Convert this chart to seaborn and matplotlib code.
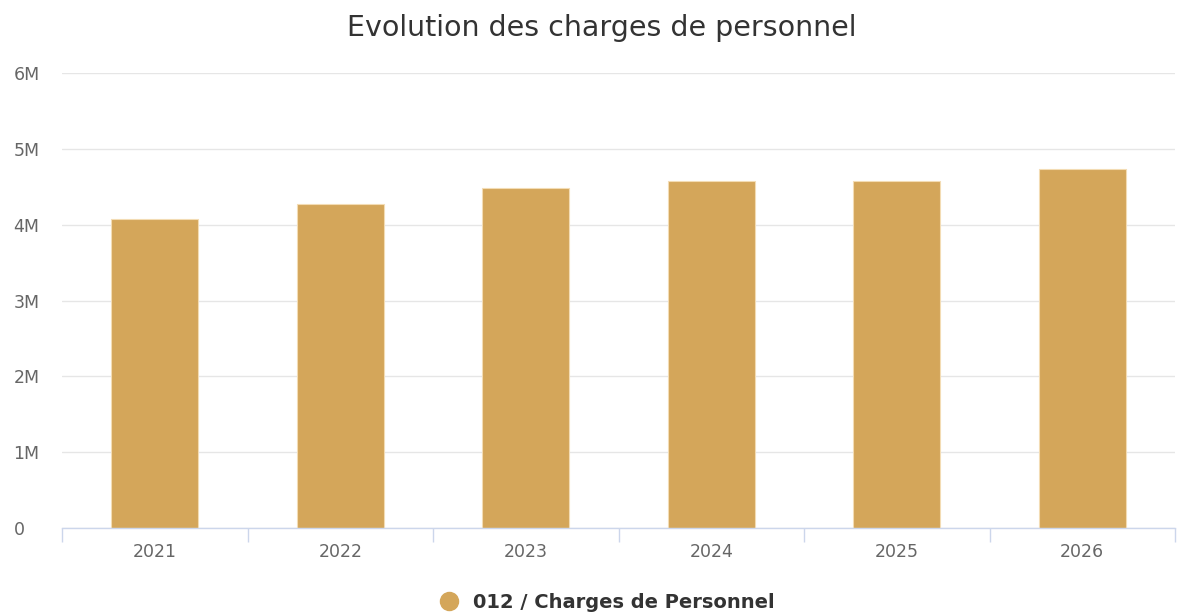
import matplotlib
matplotlib.use("Agg")
import matplotlib.pyplot as plt
from matplotlib.lines import Line2D
from matplotlib.ticker import FuncFormatter, FixedLocator
import seaborn as sns
import pandas as pd

years = ["2021", "2022", "2023", "2024", "2025", "2026"]
charges = [4080000, 4270000, 4490000, 4570000, 4570000, 4740000]
series_name = "012 / Charges de Personnel"

bar_color = "#D4A65A"

sns.set_style("white")
plt.rcParams["font.family"] = ["DejaVu Sans"]

df = pd.DataFrame({"annee": years, "montant": charges})

fig = plt.figure(figsize=(11.77, 6.14), dpi=100)
ax = fig.add_axes([62 / 1177, 1 - 528 / 614, (1175 - 62) / 1177, (528 - 73) / 614])

sns.barplot(data=df, x="annee", y="montant", color=bar_color, saturation=1,
            width=0.47, edgecolor="#f3dcb4", linewidth=0.8, ax=ax)

ax.set_ylim(0, 6000000)
ax.set_xlim(-0.5, len(years) - 0.5)
ax.set_yticks([i * 1000000 for i in range(7)])
ax.yaxis.set_major_formatter(FuncFormatter(lambda v, p: "0" if v == 0 else f"{int(v / 1e6)}M"))
ax.grid(axis="y", color="#e6e6e6", linewidth=1)
ax.set_axisbelow(True)

for s in ["top", "right", "left"]:
    ax.spines[s].set_visible(False)
ax.spines["bottom"].set_color("#ccd6eb")
ax.spines["bottom"].set_linewidth(1)

ax.tick_params(axis="x", which="major", bottom=True, length=0, pad=11,
               labelsize=12.5, labelcolor="#666666")
ax.xaxis.set_minor_locator(FixedLocator([i - 0.5 for i in range(len(years) + 1)]))
ax.tick_params(axis="x", which="minor", bottom=True, length=10, color="#ccd6eb", width=1)
ax.tick_params(axis="y", left=True, length=0, pad=35, labelsize=12.5, labelcolor="#666666")
for lab in ax.get_yticklabels():
    lab.set_horizontalalignment("left")

ax.set_xlabel("")
ax.set_ylabel("")

fig.suptitle("Evolution des charges de personnel", x=602 / 1177, y=1 - 14 / 614,
             fontsize=20.5, color="#333333", va="top")

handle = Line2D([], [], marker="o", linestyle="", markersize=13,
                markerfacecolor=bar_color, markeredgecolor=bar_color)
fig.legend([handle], [series_name], loc="center", bbox_to_anchor=(602 / 1177, 1 - 602 / 614),
           frameon=False, handletextpad=0.2,
           prop={"weight": "bold", "size": 14}, labelcolor="#333333")

fig.savefig("out.png", dpi=100)
